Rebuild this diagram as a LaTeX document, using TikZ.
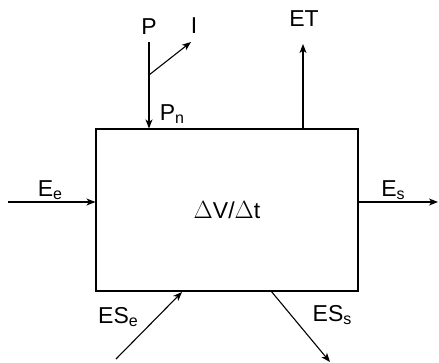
\documentclass[tikz,border=0pt]{standalone}
\usepackage{fontspec}
\setmainfont{Liberation Sans}
\usepackage{tikz}
\usetikzlibrary{positioning, arrows.meta, calc}

\newcommand{\lowsub}[1]{\raisebox{-2.5pt}{\fontsize{16}{16}\selectfont #1}}

\begin{document}
\begin{tikzpicture}[
    x=1pt, y=-1pt,
    tank/.style={draw=black, line width=1.1pt, rectangle, minimum width=262pt, minimum height=162pt, font=\fontsize{23}{25}\selectfont},
    flow/.style={line width=1.1pt, -{Stealth[length=9pt, width=7pt, inset=2.5pt]}},
    flowlabel/.style={font=\fontsize{23}{25}\selectfont, inner sep=0pt}
]
\useasboundingbox (0,0) rectangle (439,362);

% Knoten
\node[tank] (box) at (227,210) {$\Delta$V/$\Delta$t};
\node[flowlabel] (P) at (149,27) {P};
\node[flowlabel] (I) at (194,26) {I};
\node[flowlabel] (Pn) at (172,114) {P\lowsub{n}};
\node[flowlabel] (ET) at (304,19) {ET};
\node[flowlabel] (Ee) at (50,190) {E\lowsub{e}};
\node[flowlabel] (Es) at (393,190) {E\lowsub{s}};
\node[flowlabel] (ESe) at (118,317) {ES\lowsub{e}};
\node[flowlabel] (ESs) at (332,315) {ES\lowsub{s}};

% freie Enden
\coordinate (p0) at (149,42);
\coordinate (split) at (149,75);
\coordinate (i1) at (191,42);
\coordinate (et1) at (303,44);
\coordinate (ee0) at (8,202);
\coordinate (es1) at (438,202);
\coordinate (ese0) at (116,359);
\coordinate (ese1) at (182,292);
\coordinate (ess0) at (271,291);
\coordinate (ess1) at (330,362);

% Kanten
\draw[flow] (p0) -- (p0 |- box.north);
\draw[flow] (split) -- (i1);
\draw[flow] (et1 |- box.north) -- (et1);
\draw[flow] (ee0) -- (box.west |- ee0);
\draw[flow] (box.east |- es1) -- (es1);
\draw[flow] (ese0) -- (ese1);
\draw[flow] (ess0) -- (ess1);

\end{tikzpicture}
\end{document}
